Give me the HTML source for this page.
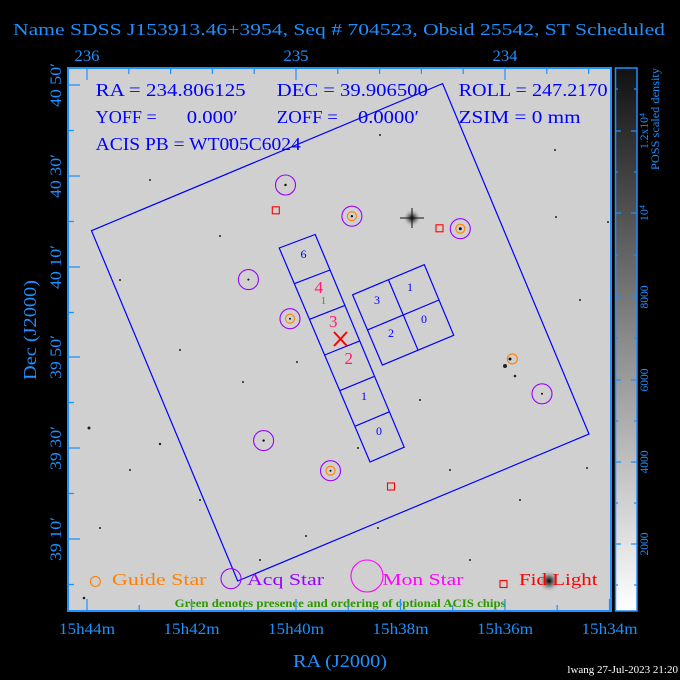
<!DOCTYPE html>
<html><head><meta charset="utf-8"><style>
html,body{margin:0;padding:0;background:#000;}
svg{display:block;}
text{font-family:"Liberation Serif",serif;}
</style></head><body>
<svg width="680" height="680" viewBox="0 0 680 680" xmlns="http://www.w3.org/2000/svg">
<defs>
<linearGradient id="cb" x1="0" y1="1" x2="0" y2="0">
<stop offset="0" stop-color="#ffffff"/><stop offset="0.5" stop-color="#8a8a8a"/><stop offset="1" stop-color="#111"/>
</linearGradient>
<filter id="grain" x="0" y="0" width="1" height="1" filterUnits="objectBoundingBox"><feTurbulence type="fractalNoise" baseFrequency="0.9" numOctaves="1" seed="3"/><feColorMatrix values="0 0 0 0 0.5  0 0 0 0 0.5  0 0 0 0 0.5  0 0 0 0.25 0"/></filter>
<radialGradient id="star"><stop offset="0" stop-color="#000"/><stop offset="0.4" stop-color="#333" stop-opacity="0.6"/><stop offset="1" stop-color="#ccc" stop-opacity="0"/></radialGradient>
</defs>
<rect width="680" height="680" fill="#000"/>
<text x="13" y="35" font-size="17" fill="#1e90ff" textLength="652" lengthAdjust="spacingAndGlyphs">Name SDSS J153913.46+3954, Seq # 704523, Obsid 25542, ST Scheduled</text>
<!-- image -->
<rect x="68" y="68" width="543" height="543" fill="#d2d2d2"/>
<rect x="68" y="68" width="543" height="543" filter="url(#grain)" opacity="0.5"/>
<g fill="#222">
<circle cx="89" cy="428" r="1.5"/><circle cx="160" cy="444" r="1.2"/><circle cx="220" cy="236" r="1"/><circle cx="243" cy="382" r="1"/><circle cx="297" cy="362" r="1"/><circle cx="306" cy="536" r="1"/><circle cx="378" cy="528" r="1"/><circle cx="358" cy="448" r="1"/><circle cx="100" cy="528" r="1"/><circle cx="84" cy="598" r="1.3"/><circle cx="587" cy="468" r="1"/><circle cx="608" cy="222" r="1"/><circle cx="556" cy="217" r="1"/><circle cx="505" cy="366" r="2"/><circle cx="515" cy="376" r="1.3"/><circle cx="120" cy="280" r="1"/><circle cx="180" cy="350" r="1"/><circle cx="450" cy="470" r="1"/><circle cx="520" cy="500" r="1"/><circle cx="555" cy="150" r="1"/><circle cx="500" cy="120" r="1"/><circle cx="380" cy="135" r="1"/><circle cx="230" cy="140" r="1"/><circle cx="150" cy="180" r="1"/><circle cx="200" cy="500" r="1"/><circle cx="260" cy="560" r="1"/><circle cx="470" cy="560" r="1"/><circle cx="580" cy="300" r="1"/><circle cx="420" cy="400" r="1"/><circle cx="130" cy="470" r="1"/>
</g>
<circle cx="412" cy="218" r="9" fill="url(#star)"/>
<path d="M400 218H424M412 208V228" stroke="#111" stroke-width="1"/>
<circle cx="549" cy="581" r="11" fill="url(#star)"/>
<!-- FOV -->
<g fill="none" stroke="#0000ff" stroke-width="1.2">
<polygon points="91.5,230.7 442.6,83.6 589,434 237.7,581"/>
<polygon points="279.2,248 315.2,234.5 404.2,447.2 370,462"/>
<path d="M294.3,283.7L330,270M309.5,319.3L344.9,305.4M324.6,355L359.7,340.9M339.7,390.7L374.5,376.3M354.9,426.3L389.4,411.8"/>
<polygon points="352.6,294.8 424.3,264.7 453.7,335.3 382.4,365.1"/>
<path d="M388.45,279.75L418.05,350.2M367.5,329.95L439,300"/>
</g>
<g font-size="12" fill="#0000ff" text-anchor="middle">
<text x="303.5" y="258">6</text><text x="364" y="400">1</text><text x="379" y="435">0</text>
<text x="377" y="304">3</text><text x="410" y="291">1</text><text x="391" y="337">2</text><text x="424" y="323">0</text>
</g>
<g font-size="17" fill="#ff1a6e" text-anchor="middle">
<text x="318.7" y="293">4</text><text x="333.2" y="327">3</text><text x="348.8" y="364">2</text>
</g>
<text x="323.5" y="304" font-size="10" fill="#2a9a00" text-anchor="middle">1</text>
<path d="M334,332L347,346M347,332L334,346" stroke="#ff0000" stroke-width="2"/>
<!-- stars -->
<g fill="none" stroke="#9900ff" stroke-width="1.1">
<circle cx="285.5" cy="185" r="10"/><circle cx="351.9" cy="216.2" r="10"/><circle cx="460.3" cy="228.7" r="10"/><circle cx="248.4" cy="279.6" r="10"/><circle cx="290" cy="318.7" r="10"/><circle cx="542" cy="393.8" r="10"/><circle cx="263.6" cy="440.6" r="10"/><circle cx="330.5" cy="470.7" r="10"/>
</g>
<g fill="none" stroke="#ff8000" stroke-width="1.1">
<circle cx="351.9" cy="216.2" r="4.5"/><circle cx="460.3" cy="228.7" r="4.5"/><circle cx="290" cy="318.7" r="4.5"/><circle cx="330.5" cy="470.7" r="4.5"/><circle cx="512.3" cy="358.9" r="5"/>
</g>
<g fill="#111"><circle cx="285.5" cy="185" r="1.2"/><circle cx="351.9" cy="216.2" r="1.2"/><circle cx="460.3" cy="228.7" r="1.5"/><circle cx="248.4" cy="279.6" r="1"/><circle cx="290" cy="318.7" r="1"/><circle cx="542" cy="393.8" r="1"/><circle cx="263.6" cy="440.6" r="1.2"/><circle cx="330.5" cy="470.7" r="1"/><circle cx="510" cy="359" r="1.5"/></g>
<g fill="none" stroke="#ff0000" stroke-width="1.1">
<rect x="272.3" y="206.8" width="7" height="7"/><rect x="436" y="224.8" width="7" height="7"/><rect x="387.5" y="483" width="7" height="7"/>
</g>
<!-- info text -->
<g font-size="18" fill="#0000ff" lengthAdjust="spacingAndGlyphs">
<text x="95.7" y="96" textLength="150" lengthAdjust="spacingAndGlyphs">RA = 234.806125</text>
<text x="276.8" y="96" textLength="151" lengthAdjust="spacingAndGlyphs">DEC = 39.906500</text>
<text x="458.6" y="96" textLength="149" lengthAdjust="spacingAndGlyphs">ROLL = 247.2170</text>
<text x="95.7" y="123" textLength="61" lengthAdjust="spacingAndGlyphs">YOFF =</text>
<text x="186.8" y="123" textLength="51" lengthAdjust="spacingAndGlyphs">0.000′</text>
<text x="276.8" y="123" textLength="61" lengthAdjust="spacingAndGlyphs">ZOFF =</text>
<text x="358" y="123" textLength="61" lengthAdjust="spacingAndGlyphs">0.0000′</text>
<text x="458.6" y="123" textLength="122" lengthAdjust="spacingAndGlyphs">ZSIM = 0 mm</text>
<text x="95.7" y="150" textLength="205" lengthAdjust="spacingAndGlyphs">ACIS PB = WT005C6024</text>
</g>
<!-- legend -->
<circle cx="95.4" cy="581.5" r="5" fill="none" stroke="#ff8000" stroke-width="1.1"/>
<text x="112" y="585" font-size="17" fill="#ff8000" textLength="94.5" lengthAdjust="spacingAndGlyphs">Guide Star</text>
<circle cx="231" cy="578.7" r="10" fill="none" stroke="#9900ff" stroke-width="1.1"/>
<text x="247" y="585" font-size="17" fill="#9900ff" textLength="77" lengthAdjust="spacingAndGlyphs">Acq Star</text>
<circle cx="367" cy="576" r="16" fill="none" stroke="#ff00ff" stroke-width="1.1"/>
<text x="382.4" y="585" font-size="17" fill="#ff00ff" textLength="81" lengthAdjust="spacingAndGlyphs">Mon Star</text>
<rect x="500" y="580.5" width="7" height="7" fill="none" stroke="#ff0000" stroke-width="1.1"/>
<text x="519" y="585" font-size="17" fill="#ff0000" textLength="78.6" lengthAdjust="spacingAndGlyphs">Fid Light</text>
<text x="174.6" y="607" font-size="12" fill="#2a9a00" font-weight="bold" textLength="331" lengthAdjust="spacingAndGlyphs">Green denotes presence and ordering of optional ACIS chips</text>
<!-- frame -->
<rect x="68" y="68" width="543" height="543" fill="none" stroke="#1e90ff" stroke-width="2"/>
<g stroke="#1e90ff" stroke-width="1.2">
<path d="M87,68v12M128.8,68v6M170.6,68v6M212.4,68v6M254.2,68v6M296,68v12M337.8,68v6M379.6,68v6M421.4,68v6M463.2,68v6M505,68v12M546.8,68v6M588.6,68v6"/>
<path d="M87,611v-12M139.2,611v-6M191.5,611v-12M243.7,611v-6M296,611v-12M348.2,611v-6M400.5,611v-12M452.7,611v-6M505,611v-12M557.2,611v-6M609.5,611v-12"/>
<path d="M68,85h12M68,130.5h6M68,176h12M68,221.5h6M68,267h12M68,312.5h6M68,357h12M68,402.5h6M68,448h12M68,493.5h6M68,539h12M68,584.5h6"/>
</g>
<g font-size="16" fill="#1e90ff" text-anchor="middle">
<text x="87" y="61" textLength="25" lengthAdjust="spacingAndGlyphs">236</text><text x="296" y="61" textLength="25" lengthAdjust="spacingAndGlyphs">235</text><text x="505" y="61" textLength="25" lengthAdjust="spacingAndGlyphs">234</text>
<text x="87" y="634" textLength="56" lengthAdjust="spacingAndGlyphs">15h44m</text><text x="191.5" y="634" textLength="56" lengthAdjust="spacingAndGlyphs">15h42m</text><text x="296" y="634" textLength="56" lengthAdjust="spacingAndGlyphs">15h40m</text><text x="400.5" y="634" textLength="56" lengthAdjust="spacingAndGlyphs">15h38m</text><text x="505" y="634" textLength="56" lengthAdjust="spacingAndGlyphs">15h36m</text><text x="609.5" y="634" textLength="56" lengthAdjust="spacingAndGlyphs">15h34m</text>
<text x="340" y="667" font-size="18" textLength="94" lengthAdjust="spacingAndGlyphs">RA (J2000)</text>
<text transform="translate(36,330) rotate(-90)" font-size="18" textLength="100" lengthAdjust="spacingAndGlyphs">Dec (J2000)</text>
<text transform="translate(61,85) rotate(-90)" textLength="44" lengthAdjust="spacingAndGlyphs">40 50′</text>
<text transform="translate(61,176) rotate(-90)" textLength="44" lengthAdjust="spacingAndGlyphs">40 30′</text>
<text transform="translate(61,267) rotate(-90)" textLength="44" lengthAdjust="spacingAndGlyphs">40 10′</text>
<text transform="translate(61,357) rotate(-90)" textLength="44" lengthAdjust="spacingAndGlyphs">39 50′</text>
<text transform="translate(61,448) rotate(-90)" textLength="44" lengthAdjust="spacingAndGlyphs">39 30′</text>
<text transform="translate(61,539) rotate(-90)" textLength="44" lengthAdjust="spacingAndGlyphs">39 10′</text>
</g>
<!-- colorbar -->
<rect x="615.5" y="68" width="21.5" height="543" fill="url(#cb)" stroke="#1e90ff" stroke-width="1.5"/>
<g stroke="#1e90ff" stroke-width="1.2">
<path d="M615,544h6M637,544h-6M615,462h6M637,462h-6M615,380h6M637,380h-6M615,297h6M637,297h-6M615,213h6M637,213h-6M615,131h6M637,131h-6"/>
<path d="M615,585h3M637,585h-3M615,503h3M637,503h-3M615,421h3M637,421h-3M615,338h3M637,338h-3M615,255h3M637,255h-3M615,172h3M637,172h-3M615,89h3M637,89h-3"/>
</g>
<g font-size="12" fill="#1e90ff" text-anchor="middle">
<text transform="translate(648,544) rotate(-90)" textLength="23" lengthAdjust="spacingAndGlyphs">2000</text>
<text transform="translate(648,462) rotate(-90)" textLength="23" lengthAdjust="spacingAndGlyphs">4000</text>
<text transform="translate(648,380) rotate(-90)" textLength="23" lengthAdjust="spacingAndGlyphs">6000</text>
<text transform="translate(648,297) rotate(-90)" textLength="23" lengthAdjust="spacingAndGlyphs">8000</text>
<text transform="translate(648,213) rotate(-90)">10⁴</text>
<text transform="translate(648,131) rotate(-90)" textLength="36" lengthAdjust="spacingAndGlyphs">1.2x10⁴</text>
<text transform="translate(659,119) rotate(-90)" textLength="102" lengthAdjust="spacingAndGlyphs">POSS scaled density</text>
</g>
<text x="678" y="673" font-size="11" fill="#fff" text-anchor="end">lwang 27-Jul-2023 21:20</text>
</svg>
</body></html>
